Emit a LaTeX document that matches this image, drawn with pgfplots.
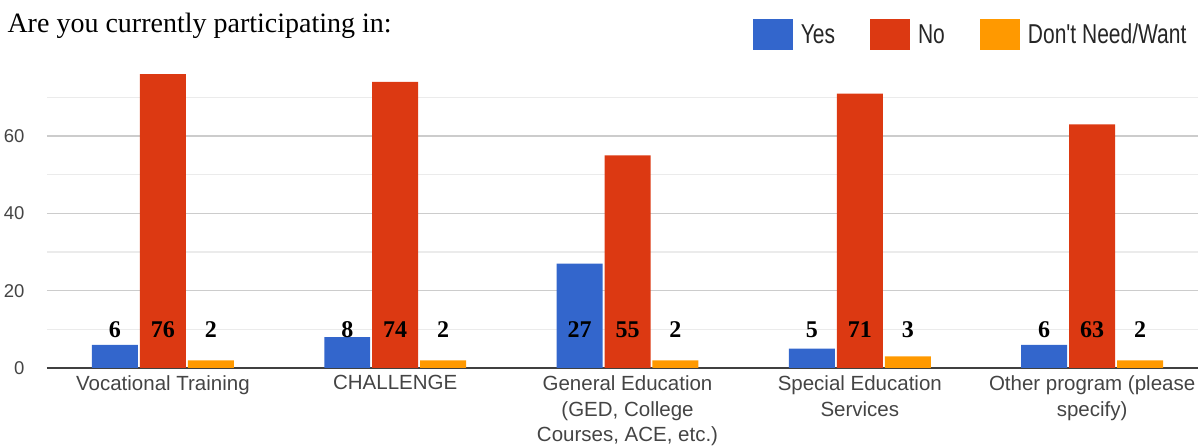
\documentclass[border=0pt]{standalone}
\usepackage{pgfplots}
\pgfplotsset{compat=1.18}
\usepackage{fontspec}
\setmainfont{Liberation Sans}
\newfontfamily\serifnum{Liberation Serif}
\definecolor{gblue}{HTML}{3366CC}
\definecolor{gred}{HTML}{DC3912}
\definecolor{gorange}{HTML}{FF9900}
\definecolor{gtext}{HTML}{444444}
\newcommand{\tall}[1]{\scalebox{1}[1.3]{#1}}

% answers per program: Yes / No / Don't Need-Want
\pgfplotsset{
  gbar/.style={ybar, bar width=0.198, draw=none, fill=#1,
    legend image code/.code={\fill[#1] (0pt,-15.5pt) rectangle (40pt,15.5pt);}},
  vlabel/.style={draw=none, mark=none, forget plot, nodes near coords,
    point meta=explicit symbolic,
    every node near coord/.append style={anchor=center, text=black,
      font=\serifnum\bfseries\fontsize{24}{24}\selectfont}},
}

\begin{document}
\begin{tikzpicture}
\begin{axis}[
  scale only axis, clip=false,
  width=1151pt, height=301.5pt,
  xmin=-0.499, xmax=4.456,
  ymin=0, ymax=78,
  axis line style={draw=none},
  ytick={0,20,40,60},
  minor ytick={10,30,50,70},
  ymajorgrids, yminorgrids,
  major grid style={color=black!20, line width=1.3pt},
  minor grid style={color=black!8, line width=1.3pt},
  extra y ticks={0}, extra y tick labels={},
  extra y tick style={major grid style={color=black!75, line width=1.8pt}},
  major tick length=0pt, minor tick length=0pt,
  xtick={0,1,2,3,4},
  xticklabels={Vocational Training, CHALLENGE,
    {General Education\\(GED, College\\Courses, ACE, etc.)},
    {Special Education\\Services}, {Other program (please\\specify)}},
  xticklabel style={align=center, font=\fontsize{20.5}{25.8}\selectfont,
    text=gtext, anchor=north, yshift=-4pt},
  yticklabel style={font=\fontsize{18.5}{20}\selectfont, text=gtext, xshift=-19pt},
  /pgf/number format/assume math mode=true,
  legend style={at={(rel axis cs:0.613,1)}, anchor=south west, yshift=16pt,
    draw=none, fill=none, inner sep=0pt, legend columns=-1,
    font=\fontsize{21}{21}\selectfont, text=black!85,
    nodes={inner sep=4pt},
    /tikz/every odd column/.append style={column sep=4pt},
    /tikz/every even column/.append style={column sep=31pt}},
]
\addplot[gbar=gblue, bar shift=-0.2065] coordinates {(0,6) (1,8) (2,27) (3,5) (4,6)};
\addplot[gbar=gred, bar shift=0] coordinates {(0,76) (1,74) (2,55) (3,71) (4,63)};
\addplot[gbar=gorange, bar shift=0.2065] coordinates {(0,2) (1,2) (2,2) (3,3) (4,2)};
\legend{\tall{Yes}, \tall{No}, \tall{Don\textquotesingle t Need/Want}}

\addplot[vlabel] coordinates {(-0.2065,10)[6] (0.7935,10)[8] (1.7935,10)[27] (2.7935,10)[5] (3.7935,10)[6]};
\addplot[vlabel] coordinates {(0,10)[76] (1,10)[74] (2,10)[55] (3,10)[71] (4,10)[63]};
\addplot[vlabel] coordinates {(0.2065,10)[2] (1.2065,10)[2] (2.2065,10)[2] (3.2065,10)[3] (4.2065,10)[2]};

\node[anchor=base west, xshift=-43pt, yshift=33.5pt,
  font=\serifnum\fontsize{28}{28}\selectfont] at (rel axis cs:0,1)
  {Are you currently participating in:};
\coordinate (O) at (rel axis cs:0,0);
\end{axis}
\pgfresetboundingbox
\path[use as bounding box] (O) ++(-47pt,-78pt) rectangle ++(1198pt,446pt);
\end{tikzpicture}
\end{document}
